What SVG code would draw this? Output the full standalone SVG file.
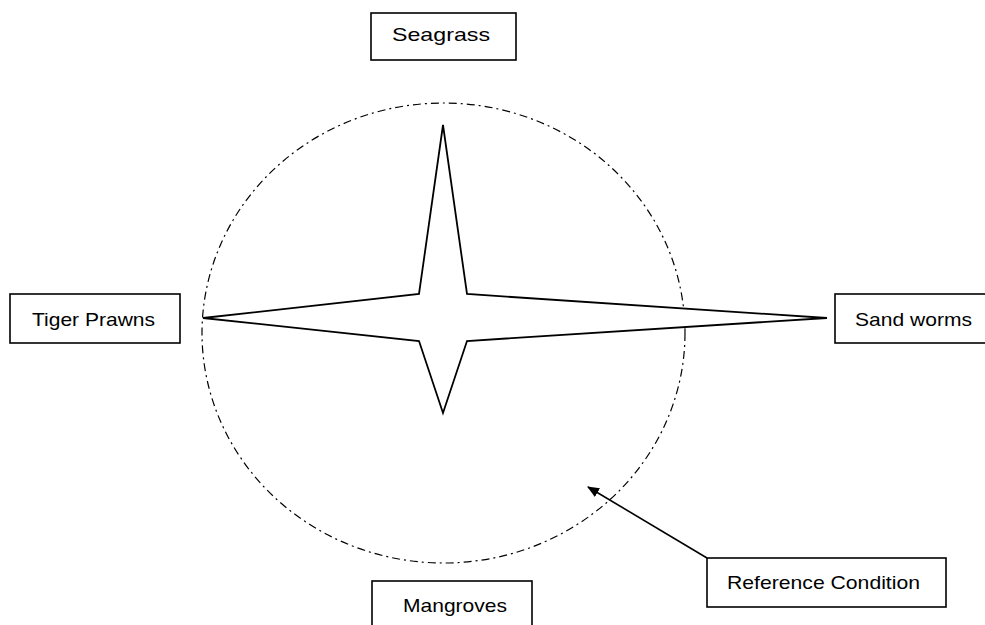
<svg xmlns="http://www.w3.org/2000/svg" width="985" height="625" viewBox="0 0 985 625">
  <style>
    .box { fill: #ffffff; stroke: #000000; stroke-width: 1.6; }
    .label { font-family: "Liberation Sans", Arial, sans-serif; font-size: 19px; fill: #000000; }
    .star { fill: #ffffff; stroke: #000000; stroke-width: 1.8; stroke-linejoin: miter; }
    .boundary { fill: none; stroke: #000000; stroke-width: 1.2; stroke-dasharray: 8 4 2 4; }
    .pointer { stroke: #000000; stroke-width: 1.6; fill: none; }
  </style>
  <defs>
    <marker id="arrowhead" viewBox="0 0 12 10" refX="11" refY="5" markerWidth="12" markerHeight="10" markerUnits="userSpaceOnUse" orient="auto">
      <path d="M0,0 L12,5 L0,10 Z" fill="#000000"/>
    </marker>
  </defs>
  <rect width="985" height="625" fill="#ffffff"/>

  <!-- reference condition boundary -->
  <ellipse id="reference-boundary" cx="443.5" cy="333" rx="241.5" ry="230" class="boundary"/>

  <!-- four-pointed indicator star -->
  <polygon id="indicator-star" class="star" points="443,125 467,294 827,318 467,341 443,413 419,341 203,318 419,294"/>

  <!-- nodes -->
  <g id="node-seagrass">
    <rect class="box" x="371" y="13" width="145" height="47"/>
    <text class="label" x="392" y="41" textLength="98" lengthAdjust="spacingAndGlyphs">Seagrass</text>
  </g>
  <g id="node-tiger-prawns">
    <rect class="box" x="10" y="294" width="170" height="49"/>
    <text class="label" x="32" y="326" textLength="123" lengthAdjust="spacingAndGlyphs">Tiger Prawns</text>
  </g>
  <g id="node-sand-worms">
    <rect class="box" x="835" y="294" width="160" height="49"/>
    <text class="label" x="855" y="326" textLength="117" lengthAdjust="spacingAndGlyphs">Sand worms</text>
  </g>
  <g id="node-mangroves">
    <rect class="box" x="372" y="581" width="160" height="60"/>
    <text class="label" x="403" y="612" textLength="104" lengthAdjust="spacingAndGlyphs">Mangroves</text>
  </g>
  <g id="node-reference-condition">
    <rect class="box" x="707" y="558" width="239" height="49"/>
    <text class="label" x="727" y="589" textLength="193" lengthAdjust="spacingAndGlyphs">Reference Condition</text>
  </g>

  <!-- connectors -->
  <g id="connectors">
    <line class="pointer" x1="707" y1="558" x2="588" y2="487" marker-end="url(#arrowhead)"/>
  </g>
</svg>
